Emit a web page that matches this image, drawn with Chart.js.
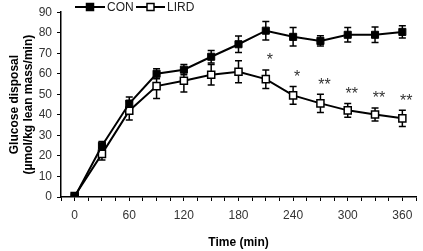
<!DOCTYPE html>
<html><head><meta charset="utf-8">
<script src="https://cdn.jsdelivr.net/npm/chart.js@4/dist/chart.umd.min.js"></script>
<style>html,body{margin:0;padding:0;background:#fff}#wrap{width:423px;height:251px}</style>
</head><body><div id="wrap"><canvas id="c" width="423" height="251"></canvas></div>
<script>
const times = [0, 30, 60, 90, 120, 150, 180, 210, 240, 270, 300, 330, 360];
const conValues = [0, 25, 45.5, 60, 62, 68.3, 74.4, 81, 78, 76, 79, 79, 80.4];
const conErrors = [0, 2, 3.2, 2.4, 2.5, 3, 4, 4.5, 4.5, 2.5, 3.5, 3.8, 3];
const lirdValues = [0.5, 21, 42, 54, 56.6, 59.5, 61, 57.4, 49.5, 45.6, 42.2, 40.2, 38.3];
const lirdErrors = [0, 3, 4.5, 6, 5.5, 5, 5.3, 4.5, 4.3, 4.4, 3.3, 3.2, 4];
const significance = ['', '', '', '', '', '', '', '*', '*', '**', '**', '**', '**'];
const seriesNames = ['CON', 'LIRD'];
const xTickLabels = [0, 60, 120, 180, 240, 300, 360];
const yTitle = ['Glucose disposal', '(\u00b5mol/kg lean mass/min)'];
const xTitle = 'Time (min)';

const FONT = "'Liberation Sans', Arial, sans-serif";
const errors = [conErrors, lirdErrors];

const errorBarPlugin = {
  id: 'errorBars',
  beforeDatasetsDraw(chart) {
    const ctx = chart.ctx, xs = chart.scales.x, ys = chart.scales.y;
    ctx.save();
    ctx.strokeStyle = '#000';
    ctx.lineWidth = 1.5;
    chart.data.datasets.forEach((ds, di) => {
      ds.data.forEach((p, i) => {
        const e = errors[di][i];
        if (!e) return;
        const x = xs.getPixelForValue(p.x);
        const yt = ys.getPixelForValue(p.y + e);
        const yb = ys.getPixelForValue(p.y - e);
        ctx.beginPath();
        ctx.moveTo(x, yt); ctx.lineTo(x, yb);
        ctx.moveTo(x - 3.5, yt); ctx.lineTo(x + 3.5, yt);
        ctx.moveTo(x - 3.5, yb); ctx.lineTo(x + 3.5, yb);
        ctx.stroke();
      });
    });
    ctx.restore();
  },
  afterDatasetsDraw(chart) {
    const ctx = chart.ctx, xs = chart.scales.x, ys = chart.scales.y;
    ctx.save();
    ctx.fillStyle = '#333';
    ctx.font = '16px ' + FONT;
    ctx.textAlign = 'center';
    ctx.textBaseline = 'middle';
    significance.forEach((s, i) => {
      if (!s) return;
      const x = xs.getPixelForValue(times[i]) + 4;
      const y = ys.getPixelForValue(lirdValues[i] + lirdErrors[i]) - 9;
      ctx.fillText(s, x, y);
    });
    ctx.restore();
  },
  afterDraw(chart) {
    const ctx = chart.ctx;
    ctx.save();
    const y = 7;
    const items = [
      {x0: 75, x1: 105, tx: 107, fill: '#000'},
      {x0: 136, x1: 165, tx: 167, fill: '#fff'}
    ];
    items.forEach((it, i) => {
      ctx.strokeStyle = '#000';
      ctx.lineWidth = 2;
      ctx.beginPath(); ctx.moveTo(it.x0, y); ctx.lineTo(it.x1, y); ctx.stroke();
      const cx = (it.x0 + it.x1) / 2;
      ctx.fillStyle = it.fill;
      ctx.lineWidth = 1.5;
      ctx.fillRect(cx - 3.5, y - 3.5, 7, 7);
      ctx.strokeRect(cx - 3.5, y - 3.5, 7, 7);
      ctx.fillStyle = '#222';
      ctx.font = '12px ' + FONT;
      ctx.textAlign = 'left';
      ctx.textBaseline = 'middle';
      ctx.fillText(chart.data.datasets[i].label, it.tx, y + 1);
    });
    ctx.restore();
  }
};

new Chart(document.getElementById('c'), {
  type: 'line',
  data: {
    datasets: [
      {
        label: seriesNames[0],
        data: times.map((t, i) => ({x: t, y: conValues[i]})),
        borderColor: '#000', borderWidth: 2,
        pointStyle: 'rect', pointRadius: 5, pointBackgroundColor: '#000',
        pointBorderColor: '#000', pointBorderWidth: 1, tension: 0
      },
      {
        label: seriesNames[1],
        data: times.map((t, i) => ({x: t, y: lirdValues[i]})),
        borderColor: '#000', borderWidth: 2,
        pointStyle: 'rect', pointRadius: 5, pointBackgroundColor: '#fff',
        pointBorderColor: '#000', pointBorderWidth: 1.5, tension: 0
      }
    ]
  },
  options: {
    responsive: false,
    animation: false,
    layout: {padding: {top: 11, right: 2, left: 0, bottom: 0}},
    plugins: {legend: {display: false}, tooltip: {enabled: false}},
    scales: {
      x: {
        type: 'linear', min: -15, max: 375,
        grid: {drawOnChartArea: false, drawTicks: true, tickLength: 4, color: '#000'},
        border: {display: true, color: '#000', width: 1.5},
        ticks: {
          stepSize: 15, autoSkip: false, maxRotation: 0, padding: 7,
          color: '#333', font: {family: FONT, size: 12},
          callback: v => xTickLabels.includes(v) ? String(v) : ''
        },
        title: {display: true, text: xTitle, color: '#000',
          font: {family: FONT, size: 12, weight: 'bold'}, padding: {top: 0, bottom: 1}},
        afterFit(s) { s.height = 54; }
      },
      y: {
        min: 0, max: 90,
        grid: {drawOnChartArea: false, drawTicks: true, tickLength: 4, color: '#000'},
        border: {display: true, color: '#000', width: 1.5},
        ticks: {stepSize: 10, padding: 5, color: '#333', font: {family: FONT, size: 12}},
        title: {display: true, text: yTitle, color: '#000',
          font: {family: FONT, size: 12, weight: 'bold'}, padding: {top: 7, bottom: 0}},
        afterFit(s) { s.width = 61; }
      }
    }
  },
  plugins: [errorBarPlugin]
});
</script>
</body></html>
